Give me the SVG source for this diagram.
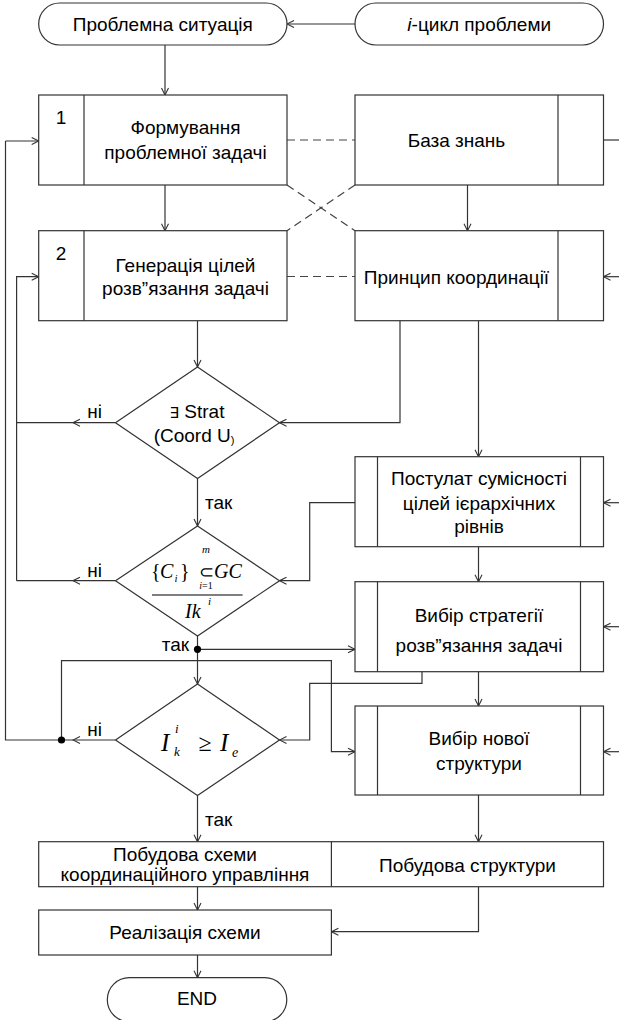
<svg xmlns="http://www.w3.org/2000/svg" width="619" height="1020" viewBox="0 0 619 1020">
<defs>
<style>
.bx{fill:#fff;stroke:#333;stroke-width:1.2}
.ln{fill:none;stroke:#333;stroke-width:1.2}
.ar{fill:none;stroke:#333;stroke-width:1.2;marker-end:url(#a)}
.ds{fill:none;stroke:#444;stroke-width:1.2;stroke-dasharray:8 5}
.t{font-family:"Liberation Sans",Arial,sans-serif;font-size:19px;text-anchor:middle;fill:#000}
.tl{font-family:"Liberation Sans",Arial,sans-serif;font-size:19px;fill:#000}
.m{font-family:"Liberation Serif","Times New Roman",serif;font-style:italic;fill:#000}
.mn{font-family:"Liberation Serif","Times New Roman",serif;fill:#000}
</style>
<marker id="a" markerWidth="10" markerHeight="10" refX="9" refY="5" orient="auto" markerUnits="userSpaceOnUse">
<path d="M2,1.5 L9,5 L2,8.5" fill="none" stroke="#333" stroke-width="1.1"/>
</marker>
</defs>
<rect width="619" height="1020" fill="#fff"/>

<g id="connectors">
<path class="ar" d="M355,24 H287"/>
<path class="ar" d="M165,45 V95"/>
<path class="ar" d="M165,185 V230.7"/>
<path class="ar" d="M467.5,185 V230.7"/>
<path class="ds" d="M287,140 H355"/>
<path class="ds" d="M287,276.5 H355"/>
<path class="ds" d="M287,185 L355,230.7"/>
<path class="ds" d="M355,185 L287,230.7"/>
<path class="ln" d="M603,140 H619"/>
<path class="ar" d="M619,276.7 H603.5"/>
<path class="ar" d="M619,502.7 H603.5"/>
<path class="ar" d="M619,626.7 H603.5"/>
<path class="ar" d="M619,751.7 H603.5"/>
<path class="ar" d="M197.5,320.7 V367"/>
<path class="ar" d="M400,320.7 V422.7 H279.5"/>
<path class="ar" d="M478.5,320.7 V456.7"/>
<path class="ar" d="M197.5,478.5 V526"/>
<path class="ar" d="M115.5,422.7 H73"/>
<path class="ln" d="M73,422.7 H16.6"/>
<path class="ar" d="M16.6,580.7 V276.7 H38.7"/>
<path class="ar" d="M115.5,580.7 H73"/>
<path class="ln" d="M73,580.7 H16.6"/>
<path class="ar" d="M355,502.7 H309.7 V580.7 H279.5"/>
<path class="ar" d="M478.5,546.7 V581.7"/>
<path class="ln" d="M197.5,636 V649.3"/>
<path class="ar" d="M197.5,649.3 V684"/>
<path class="ar" d="M197.5,649.3 H355"/>
<path class="ar" d="M422,671.7 V683.3 H309.7 V740 H279.5"/>
<path class="ar" d="M61.5,740 V660.7 H331.4 V751.7 H355"/>
<path class="ar" d="M115.5,740 H73"/>
<path class="ln" d="M73,740 H5.5 V141"/>
<path class="ar" d="M5.5,141 H38.7"/>
<path class="ar" d="M478.5,671.7 V706"/>
<path class="ar" d="M197.5,795.5 V841.7"/>
<path class="ar" d="M478.5,795 V841.7"/>
<path class="ar" d="M197.5,886.7 V910"/>
<path class="ar" d="M478.5,886.7 V931.7 H331.4"/>
<path class="ar" d="M197.5,955 V977.7"/>
<circle cx="197.5" cy="649.3" r="3.6" fill="#000"/>
<circle cx="61.5" cy="740" r="3.6" fill="#000"/>
<text class="tl" x="205" y="509">так</text>
<text class="t" x="175.5" y="651">так</text>
<text class="tl" x="205" y="826">так</text>
<text class="t" x="94.7" y="418">ні</text>
<text class="t" x="94.7" y="577">ні</text>
<text class="t" x="94.7" y="736">ні</text>
</g>

<g id="n-start">
<rect class="bx" x="38.7" y="3" width="248.3" height="42" rx="21"/>
<text class="t" x="162.8" y="30.5">Проблемна ситуація</text>
</g>
<g id="n-cycle">
<rect class="bx" x="355" y="3" width="248.5" height="42" rx="21"/>
<text class="t" x="479.2" y="30.5"><tspan font-style="italic">i</tspan>-цикл проблеми</text>
</g>

<g id="n-1">
<rect class="bx" x="38.7" y="95" width="248.3" height="90"/>
<path class="ln" d="M84,95 V185"/>
<text class="t" x="61" y="123.5">1</text>
<text class="t" x="185.5" y="133.5">Формування</text>
<text class="t" x="185.5" y="158.5">проблемної задачі</text>
</g>
<g id="n-kb">
<rect class="bx" x="355" y="95" width="248.5" height="90"/>
<path class="ln" d="M558,95 V185"/>
<text class="t" x="456.5" y="146.5">База знань</text>
</g>
<g id="n-2">
<rect class="bx" x="38.7" y="230.7" width="248.3" height="90"/>
<path class="ln" d="M84,230.7 V320.7"/>
<text class="t" x="61" y="260">2</text>
<text class="t" x="185.5" y="271.5">Генерація цілей</text>
<text class="t" x="185.5" y="295">розв”язання задачі</text>
</g>
<g id="n-princ">
<rect class="bx" x="355" y="230.7" width="248.5" height="90"/>
<path class="ln" d="M558,230.7 V320.7"/>
<text class="t" x="456.5" y="283.5">Принцип координації</text>
</g>

<g id="d-1">
<path class="bx" d="M197.5,367 L279.5,422.7 L197.5,478.5 L115.5,422.7 Z"/>
<text class="t" x="197" y="418"><tspan font-family="DejaVu Sans" font-size="15">∃</tspan> Strat</text>
<text class="t" x="194" y="441.5">(Coord U<tspan font-size="11" dy="2">)</tspan></text>
</g>

<g id="n-post">
<rect class="bx" x="355" y="456.7" width="248.5" height="90"/>
<path class="ln" d="M377.5,456.7 V546.7 M580.5,456.7 V546.7"/>
<text class="t" x="479" y="485">Постулат сумісності</text>
<text class="t" x="479" y="509.5">цілей ієрархічних</text>
<text class="t" x="479" y="532.5">рівнів</text>
</g>

<g id="d-2">
<path class="bx" d="M197.5,526 L279.5,580.7 L197.5,636 L115.5,580.7 Z"/>
<text class="mn" x="151" y="578" font-size="20">{</text>
<text class="m" x="160" y="578" font-size="20">C</text>
<text class="m" x="174.5" y="582" font-size="11">i</text>
<text class="mn" x="180" y="578" font-size="20">}</text>
<text class="m" x="206" y="553" font-size="11" text-anchor="middle">m</text>
<text class="mn" x="206" y="578" font-size="18" text-anchor="middle">⊂</text>
<text class="mn" x="206" y="589" font-size="10" text-anchor="middle"><tspan font-style="italic">i</tspan>=1</text>
<text class="m" x="214" y="578" font-size="20">GC</text>
<path d="M152,595 H242.6" stroke="#555" stroke-width="1.5"/>
<text class="m" x="185" y="618" font-size="20">Ik</text>
<text class="m" x="208" y="605" font-size="11">i</text>
</g>

<g id="n-strat">
<rect class="bx" x="355" y="581.7" width="248.5" height="90"/>
<path class="ln" d="M377.5,581.7 V671.7 M580.5,581.7 V671.7"/>
<text class="t" x="479" y="621.5">Вибір стратегії</text>
<text class="t" x="479" y="651.5">розв”язання задачі</text>
</g>

<g id="d-3">
<path class="bx" d="M197.5,684 L279.5,740 L197.5,795.5 L115.5,740 Z"/>
<text class="m" x="161" y="751" font-size="25">I</text>
<text class="m" x="175" y="733" font-size="13">i</text>
<text class="m" x="174" y="756" font-size="13">k</text>
<text class="mn" x="205" y="751" font-size="24" text-anchor="middle">≥</text>
<text class="m" x="220" y="751" font-size="25">I</text>
<text class="m" x="232" y="757" font-size="14">e</text>
</g>

<g id="n-newstr">
<rect class="bx" x="355" y="706" width="248.5" height="89"/>
<path class="ln" d="M377.5,706 V795 M580.5,706 V795"/>
<text class="t" x="479" y="744.5">Вибір нової</text>
<text class="t" x="479" y="769.5">структури</text>
</g>

<g id="n-build">
<rect class="bx" x="38.7" y="841.7" width="564.8" height="45"/>
<path class="ln" d="M331.4,841.7 V886.7"/>
<text class="t" x="185" y="861">Побудова схеми</text>
<text class="t" x="185" y="881">координаційного управління</text>
<text class="t" x="467.5" y="872">Побудова структури</text>
</g>

<g id="n-real">
<rect class="bx" x="38.7" y="910" width="292.7" height="45"/>
<text class="t" x="185" y="938.5">Реалізація схеми</text>
</g>

<g id="n-end">
<rect class="bx" x="107.3" y="977.7" width="179.5" height="44" rx="22"/>
<text class="t" x="197" y="1005">END</text>
</g>
</svg>
